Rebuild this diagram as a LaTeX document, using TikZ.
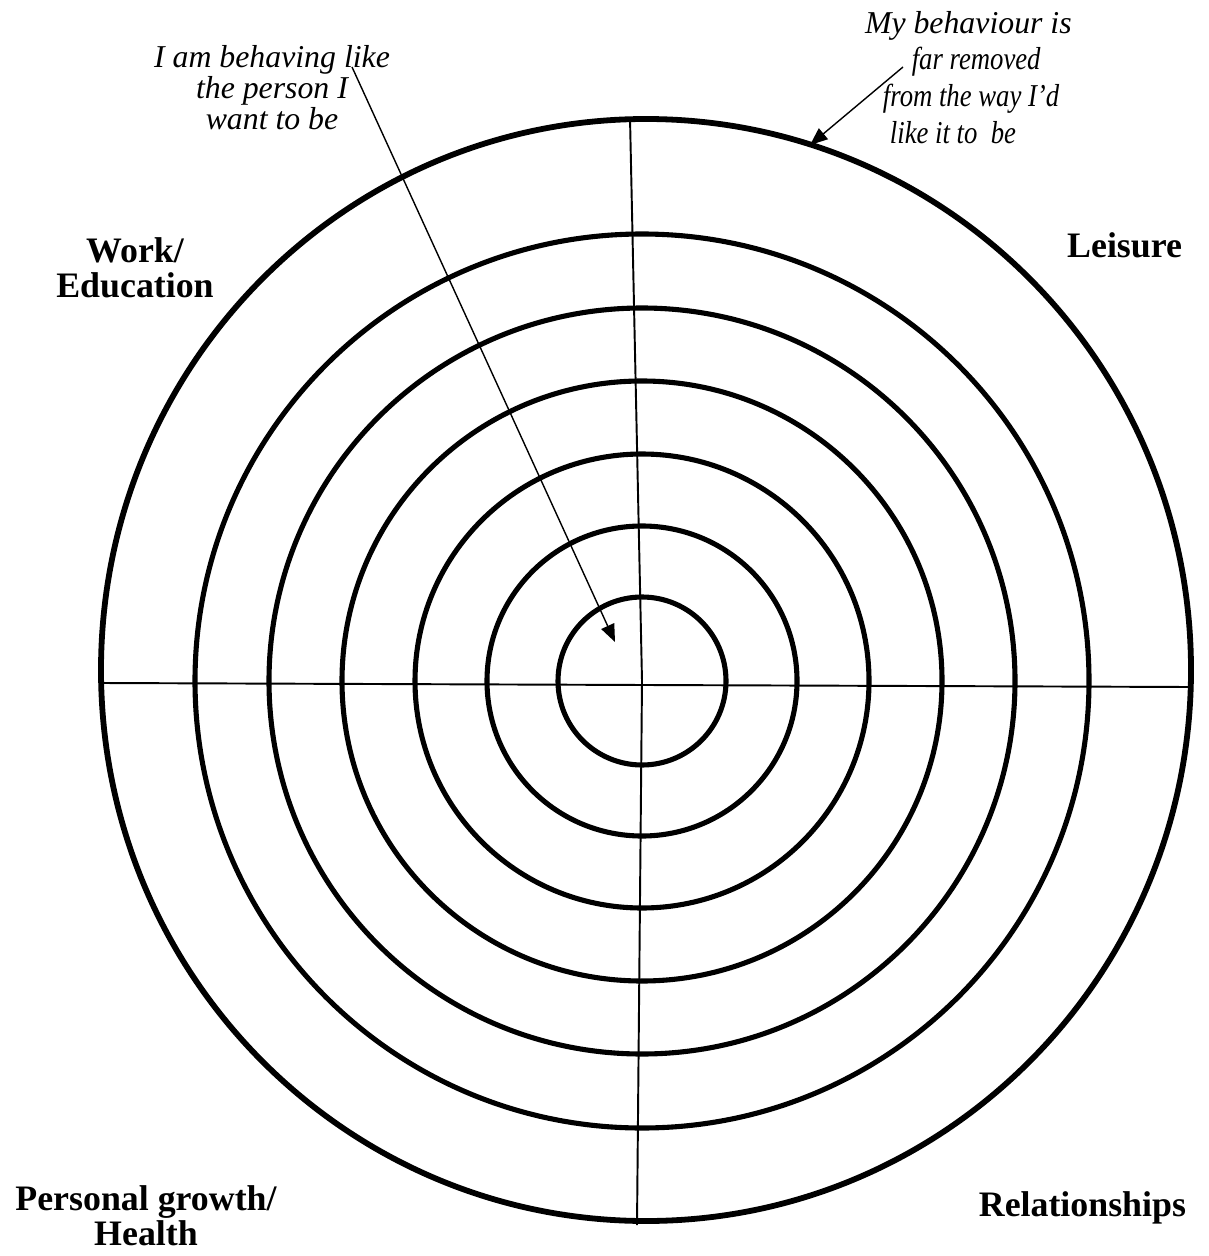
\documentclass[tikz,border=0pt]{standalone}
\usepackage{fontspec}
\setmainfont{Liberation Serif}
\newfontfamily\narrowserif[FakeStretch=0.84]{Liberation Serif}
\usetikzlibrary{arrows.meta}
\begin{document}
\begin{tikzpicture}
    [
        x=0.02cm, y=-0.02cm,
        every node/.style={inner sep=0pt, outer sep=0pt},
        ring/.style={line width=2.9pt},
        axis/.style={line width=1.1pt},
        pointer/.style={line width=0.8pt, -{Triangle[length=10pt, width=8pt]}},
        area/.style={font=\bfseries\fontsize{20.4pt}{19.8pt}\selectfont, align=center},
        remark/.style={font=\itshape\fontsize{18.1pt}{17.9pt}\selectfont},
    ]
  \useasboundingbox (0,0) rectangle (1208,1256);

  % Rings
  \coordinate (C) at (642,681);
  \foreach \r in {84,155,227,300,373,447}
    \draw [ring] (C) circle (\r);
  \draw [ring, line width=3.3pt] (646,670) ellipse (545 and 551);

  % Axes
  \coordinate (T) at (630,118);
  \coordinate (B) at (637,1225);
  \coordinate (L) at (102,683);
  \coordinate (R) at (1190,687);
  \draw [axis] (T) -- (C) -- (B);
  \draw [axis] (L) -- (R);

  % Nodes
  \node [remark, align=center, anchor=north] (best) at (272,45)
    {I am behaving like\\the person I\\want to be};
  \node [remark, font=\itshape\fontsize{18.1pt}{21pt}\selectfont, align=left, anchor=north west] (worst) at (865,11)
    {My behaviour is\\
     \hspace*{26.6pt}{\narrowserif\itshape far removed}\\
     \hspace*{10.2pt}{\narrowserif\itshape from the way I’d}\\
     \hspace*{14.2pt}{\narrowserif\itshape like it to\ \ be}};
  \node [area, anchor=north] (work) at (135,238) {Work/\\Education};
  \node [area, anchor=base east] (leisure) at (1182,258) {Leisure};
  \node [area, font=\bfseries\fontsize{20.4pt}{17pt}\selectfont, anchor=north] (growth) at (146,1186) {Personal growth/\\Health};
  \node [area, anchor=base east] (relations) at (1186,1216) {Relationships};

  % Connections
  \coordinate (bs) at (352,67);
  \coordinate (bt) at (615,642);
  \coordinate (ws) at (903,67);
  \coordinate (wt) at (810,145);
  \draw [pointer] (bs) -- (bt);
  \draw [pointer] (ws) -- (wt);
\end{tikzpicture}
\end{document}
